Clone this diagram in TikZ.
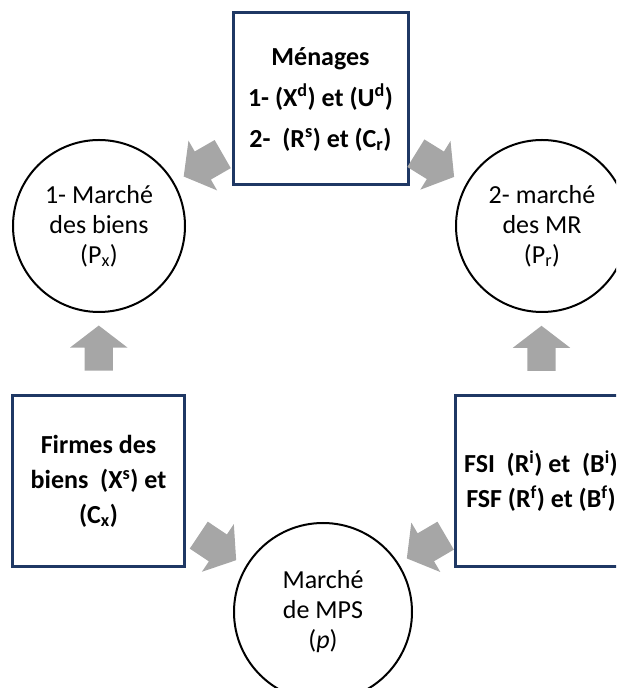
\documentclass[tikz,border=0pt]{standalone}
\usepackage{fontspec}
\setmainfont{Carlito}
\usepackage{tikz}
\usetikzlibrary{
    calc,
    shapes.arrows
}
\definecolor{navy}{RGB}{31,56,100}
\definecolor{flowgray}{RGB}{166,166,166}
\tikzset{
    market/.style={circle, draw=black, line width=2pt, minimum size=172pt, inner sep=0pt,
        align=center, font=\fontsize{26}{30}\selectfont},
    agent/.style={rectangle, draw=navy, line width=3pt, minimum width=172pt, minimum height=171pt,
        inner sep=0pt, align=center, font=\fontsize{26}{35}\selectfont\bfseries},
    flow/.style={single arrow, fill=flowgray, draw=none, inner xsep=0pt, inner ysep=16pt,
        minimum height=45pt, single arrow head extend=12.5pt, single arrow tip angle=105},
    upflow/.style={flow, inner ysep=14pt, single arrow head extend=14.5pt, rotate=90}
}

\begin{document}
\begin{tikzpicture}[x=1pt,y=1pt]
        \useasboundingbox (0,0) rectangle (616,688);
        \clip (0,0) rectangle (616,688);

        \node[market] (biens) at (99,462) {1- Marché\\des biens\\(P\textsubscript{x})};
        \node[market] (mr) at (542,462) {2- marché\\des MR\\(P\textsubscript{r})};
        \node[market, minimum size=178pt] (mps) at (323,76) {Marché\\de MPS\\(\textit{p})};

        \node[agent, minimum width=175pt, minimum height=172pt, font=\fontsize{26}{41}\selectfont\bfseries] (men) at (320.5,589)
            {Ménages\\1- (X\textsuperscript{d}) et (U\textsuperscript{d})\\2-\ \ (R\textsuperscript{s}) et (C\textsubscript{r})};
        \node[agent] (firmes) at (98.5,207) {Firmes des\\biens\ \ (X\textsuperscript{s}) et\\(C\textsubscript{x})};
        \node[agent] (fs) at (541,206.5) {FSI\ \ (R\textsuperscript{i}) et\ \ (B\textsuperscript{i})\\FSF (R\textsuperscript{f}) et (B\textsuperscript{f})};

        \node[flow, rotate=209.9] (f1) at (208.6,525.8) {};
        \node[flow, rotate=-31.8] (f2) at (429.7,526.2) {};
        \node[upflow] (f3) at ($(firmes.north)!0.5!(biens.south)$) {};
        \node[upflow] (f4) at ($(fs.north)!0.5!(mr.south)$) {};
        \node[flow, rotate=-33.8] (f5) at (212.3,143.8) {};
        \node[flow, rotate=210.4] (f6) at (431.6,144.1) {};
    \end{tikzpicture}
\end{document}
